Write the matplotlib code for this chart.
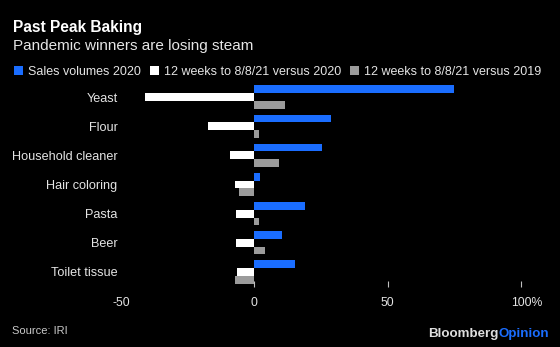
"""
Bar chart: sales volume changes for pandemic favourites.
"""

import matplotlib
matplotlib.use("Agg")
from matplotlib import pyplot as plt
from matplotlib.transforms import ScaledTranslation
import numpy as np

categories = ["Yeast", "Flour", "Household cleaner", "Hair coloring",
              "Pasta", "Beer", "Toilet tissue"]
sales_2020 = [75.0, 28.7, 25.5, 2.2, 19.0, 10.4, 15.1]
vs_2020 = [-40.9, -17.4, -9.0, -7.4, -7.0, -6.8, -6.6]
vs_2019 = [11.4, 1.6, 9.1, -5.8, 1.9, 3.9, -7.4]
series_names = ["Sales volumes 2020", "12 weeks to 8/8/21 versus 2020",
                "12 weeks to 8/8/21 versus 2019"]
x_ticks = [-50, 0, 50, 100]
x_labels = ["-50", "0", "50", "100%"]

BLUE = "#1a6dff"
WHITE = "#ffffff"
GRAY = "#9b9b9b"
BG = "#000000"
FONT = "Liberation Sans"

plt.rcParams["font.family"] = FONT

fig = plt.figure(figsize=(5.6, 3.47), dpi=100, facecolor=BG)
W, H = 560, 347
ax = fig.add_axes([121 / W, 1 - 287 / H, 400 / W, 205 / H], facecolor=BG)

y = np.arange(len(categories))
h = 0.268
bars = []
for off, vals, col, name in zip([-h, 0, h], [sales_2020, vs_2020, vs_2019],
                                [BLUE, WHITE, GRAY], series_names):
    bars.append(ax.barh(y + off, vals, height=h, color=col, label=name,
                        linewidth=0))

ax.set_xlim(-50, 100)
ax.set_ylim(6.52, -0.52)
for s in ax.spines.values():
    s.set_visible(False)

ax.set_yticks(y)
ax.set_yticklabels(categories, fontsize=9.1, color="#e4e4e4")
ax.tick_params(axis="y", length=0, pad=2.5)

ax.set_xticks(x_ticks)
ax.set_xticklabels(x_labels, fontsize=8.8, color="#e4e4e4")
ax.tick_params(axis="x", direction="in", length=4, width=0.8,
               color="#bfbfbf", pad=7)
ax.xaxis.get_major_ticks()[0].tick1line.set_visible(False)
# keep the number centred on the tick, let "%" hang to the right
pct = ax.get_xticklabels()[-1]
pct.set_transform(pct.get_transform()
                  + ScaledTranslation(4.0 / 72, 0, fig.dpi_scale_trans))

fig.text(13 / W, 1 - 32 / H, "Past Peak Baking", fontsize=11.2,
         fontweight="bold", color="white", va="baseline")
fig.text(13 / W, 1 - 50 / H, "Pandemic winners are losing steam",
         fontsize=11.0, color="#e6e6e6", va="baseline")

fig.legend(handles=bars, loc="center left", bbox_to_anchor=(14 / W, 1 - 72 / H),
           ncol=3, frameon=False, fontsize=9.0, labelcolor="#e4e4e4",
           handlelength=0.7, handleheight=0.7, handletextpad=0.4,
           columnspacing=0.75, borderpad=0, borderaxespad=0)

fig.text(12 / W, 1 - 331 / H, "Source: IRI", fontsize=8.0,
         color="#c8c8c8", va="center")
t = fig.text(428 / W, 1 - 334 / H, "Bloomberg", fontsize=9.6,
             fontweight="bold", color="#dedede", va="center")
ax.annotate("Opinion", xy=(1, 0.5), xycoords=t, va="center", ha="left",
            fontsize=9.6, fontweight="bold", color=BLUE,
            annotation_clip=False)

fig.savefig("out.png", dpi=100, facecolor=BG)
